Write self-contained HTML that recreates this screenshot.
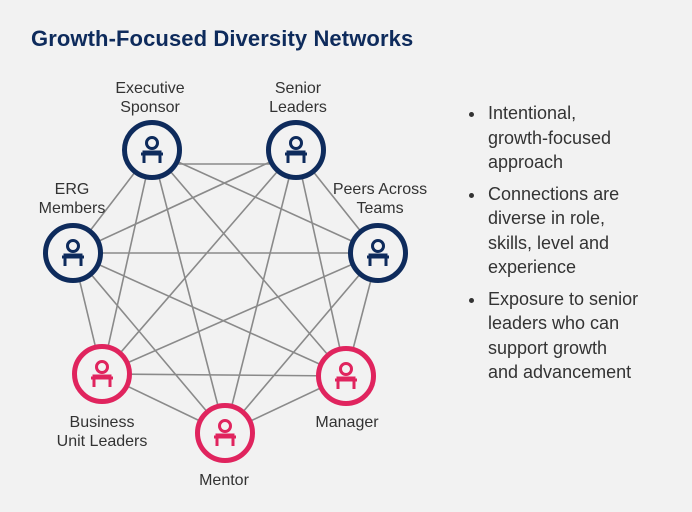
<!DOCTYPE html>
<html><head><style>
body{margin:0;width:692px;height:512px;background:#f2f2f2;font-family:"Liberation Sans",sans-serif;overflow:hidden;position:relative}
.t{position:absolute;left:31px;top:26px;font-weight:bold;font-size:22px;color:#0e2b5c;letter-spacing:0.1px}
.l{position:absolute;font-size:16px;color:#333;text-align:center;line-height:19px;white-space:nowrap}
ul{position:absolute;left:466px;top:101px;margin:0;padding:0 0 0 20px;font-size:18px;line-height:24.5px;color:#333;white-space:nowrap}
li{margin-bottom:7px;padding-left:2px}
</style></head><body>
<div class="t">Growth-Focused Diversity Networks</div>
<svg width="692" height="512" style="position:absolute;left:0;top:0">
<g stroke="#8a8a8a" stroke-width="1.6" id="e"></g>
<g id="n"></g>
</svg>
<div class="l" style="left:100px;top:79px;width:100px">Executive<br>Sponsor</div>
<div class="l" style="left:248px;top:79px;width:100px">Senior<br>Leaders</div>
<div class="l" style="left:325px;top:180px;width:110px">Peers Across<br>Teams</div>
<div class="l" style="left:22px;top:180px;width:100px">ERG<br>Members</div>
<div class="l" style="left:42px;top:413px;width:120px">Business<br>Unit Leaders</div>
<div class="l" style="left:174px;top:471px;width:100px">Mentor</div>
<div class="l" style="left:297px;top:413px;width:100px">Manager</div>
<ul><li>Intentional,<br>growth-focused<br>approach</li><li>Connections are<br>diverse in role,<br>skills, level and<br>experience</li><li>Exposure to senior<br>leaders who can<br>support growth<br>and advancement</li></ul>
<script>
var N=[[152,150,'#0e2b5c'],[296,150,'#0e2b5c'],[378,253,'#0e2b5c'],[346,376,'#e0245e'],[225,433,'#e0245e'],[102,374,'#e0245e'],[73,253,'#0e2b5c']];
var e='',n='';
for(var i=0;i<7;i++)for(var j=i+1;j<7;j++){var dy=(i==0&&j==1)?14:0;e+='<line x1="'+N[i][0]+'" y1="'+(N[i][1]+dy)+'" x2="'+N[j][0]+'" y2="'+(N[j][1]+dy)+'"/>';}
N.forEach(function(p){var x=p[0],y=p[1],c=p[2];
n+='<circle cx="'+x+'" cy="'+y+'" r="27.5" fill="#f2f2f2" stroke="'+c+'" stroke-width="5"/>';
n+='<circle cx="'+x+'" cy="'+(y-7)+'" r="5.5" fill="none" stroke="'+c+'" stroke-width="3"/>';
n+='<path d="M'+(x-8)+' '+(y+13)+'V'+(y+2)+'H'+(x+8)+'V'+(y+13)+'M'+(x-11)+' '+(y+4)+'H'+(x+11)+'" fill="none" stroke="'+c+'" stroke-width="3"/>';});
document.getElementById('e').innerHTML=e;document.getElementById('n').innerHTML=n;
</script>
</body></html>
